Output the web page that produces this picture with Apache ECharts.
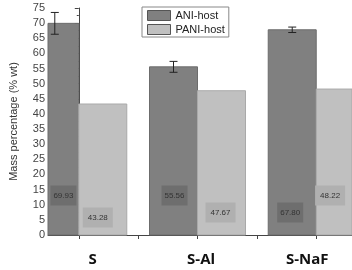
<!DOCTYPE html>
<html>
<head>
<meta charset="utf-8">
<script src="https://cdn.jsdelivr.net/npm/echarts@6/dist/echarts.min.js"></script>
<style>html,body{margin:0;padding:0;background:#fff}#c{width:352px;height:270px}</style>
</head>
<body>
<div id="c"></div>
<script>
var categories = ['S', 'S-Al', 'S-NaF'];
var seriesNames = ['ANI-host', 'PANI-host'];
var aniValues = [69.93, 55.56, 67.80];
var paniValues = [43.28, 47.67, 48.22];
var aniErrors = [3.6, 1.8, 0.9];
var yMin = 0, yMax = 75, yInterval = 5;

// style constants (label placement), kept apart from the data
var aniLabelDist = [30, 30, 13];
var aniLabelOffset = [[0, 0], [1, 0], [-2, 0]];
var paniLabelDist = [8, 13, 30];
var paniLabelOffset = [[-5, 0], [-1, 0], [-4, 0]];
var labelPos = [0.117, 1.03, 1.925];
var tickPos = [0, 0.5, 1, 1.5, 2];
var barW = 48;

var colors = {
  ani: { fill: '#808080', stroke: '#6c6c6c', labelBg: '#6e6e6e' },
  pani: { fill: '#c0c0c0', stroke: '#a9a9a9', labelBg: '#b0b0b0' }
};

function barRenderer(side, sty, dists, offs, padding) {
  return function (params, api) {
    var i = api.value(0), v = api.value(1);
    var base = api.coord([i, 0]);
    var top = api.coord([i, v]);
    var x0 = side < 0 ? base[0] - barW : base[0];
    var rect = echarts.graphic.clipRectByRect(
      { x: x0, y: top[1], width: barW, height: base[1] - top[1] },
      {
        x: params.coordSys.x, y: params.coordSys.y,
        width: params.coordSys.width, height: params.coordSys.height
      }
    );
    if (!rect) return;
    return {
      type: 'rect',
      shape: rect,
      style: { fill: sty.fill, stroke: sty.stroke, lineWidth: 1 },
      textContent: {
        style: {
          text: v.toFixed(2), fontSize: 8, fill: '#333',
          fontFamily: 'Liberation Sans',
          backgroundColor: sty.labelBg, padding: padding
        }
      },
      textConfig: {
        position: 'insideBottom',
        distance: dists[params.dataIndex],
        offset: offs[params.dataIndex]
      }
    };
  };
}

var chart = echarts.init(document.getElementById('c'));
chart.setOption({
  backgroundColor: '#fff',
  animation: false,
  grid: { left: 46, right: 0, top: 8, bottom: 35 },
  legend: {
    orient: 'vertical', left: 142, top: 7,
    icon: 'rect',
    itemWidth: 23, itemHeight: 10, itemGap: 3,
    padding: [3, 4, 2, 5],
    borderColor: '#888', borderWidth: 1,
    itemStyle: { borderColor: '#555', borderWidth: 1 },
    textStyle: { fontSize: 11, color: '#222', fontFamily: 'Liberation Sans' },
    data: seriesNames
  },
  xAxis: {
    type: 'value', min: -0.2594, max: 2.3014,
    splitLine: { show: false },
    axisLine: { show: true, lineStyle: { color: '#444' } },
    axisTick: { show: true, length: 4, customValues: tickPos, lineStyle: { color: '#444' } },
    axisLabel: {
      customValues: labelPos, margin: 17,
      fontSize: 15, fontWeight: 'bold', color: '#111', fontFamily: 'Open Sans',
      formatter: function (v) { return categories[Math.round(v)]; }
    }
  },
  yAxis: {
    type: 'value', min: yMin, max: yMax, interval: yInterval,
    name: 'Mass percentage (% wt)', nameLocation: 'middle', nameGap: 29,
    nameTextStyle: { fontSize: 11, color: '#333', fontFamily: 'Liberation Sans' },
    splitLine: { show: false },
    axisLine: { show: true, lineStyle: { color: '#444' } },
    axisTick: { show: true, length: 4, lineStyle: { color: '#444' } },
    minorTick: { show: true, splitNumber: 2, length: 2, lineStyle: { color: '#444' } },
    axisLabel: { fontSize: 11, color: '#444', margin: 3, fontFamily: 'Liberation Sans' }
  },
  series: [
    {
      name: seriesNames[0], type: 'custom',
      itemStyle: { color: colors.ani.fill },
      renderItem: barRenderer(-1, colors.ani, aniLabelDist, aniLabelOffset, [6, 3]),
      encode: { x: 0, y: 1 },
      data: aniValues.map(function (v, i) { return [i, v]; })
    },
    {
      name: seriesNames[1], type: 'custom',
      itemStyle: { color: colors.pani.fill },
      renderItem: barRenderer(1, colors.pani, paniLabelDist, paniLabelOffset, [6, 5]),
      encode: { x: 0, y: 1 },
      data: paniValues.map(function (v, i) { return [i, v]; })
    },
    {
      type: 'custom', silent: true, z: 10,
      encode: { x: 0, y: [1, 2] },
      data: aniValues.map(function (v, i) { return [i, v - aniErrors[i], v + aniErrors[i]]; }),
      renderItem: function (params, api) {
        var lo = api.coord([api.value(0), api.value(1)]);
        var hi = api.coord([api.value(0), api.value(2)]);
        var x = lo[0] - barW / 2;
        var st = { stroke: '#222', lineWidth: 1 };
        return {
          type: 'group',
          children: [
            { type: 'line', shape: { x1: x, y1: hi[1], x2: x, y2: lo[1] }, style: st },
            { type: 'line', shape: { x1: x - 4, y1: hi[1], x2: x + 4, y2: hi[1] }, style: st },
            { type: 'line', shape: { x1: x - 4, y1: lo[1], x2: x + 4, y2: lo[1] }, style: st }
          ]
        };
      }
    }
  ]
});
</script>
</body>
</html>
